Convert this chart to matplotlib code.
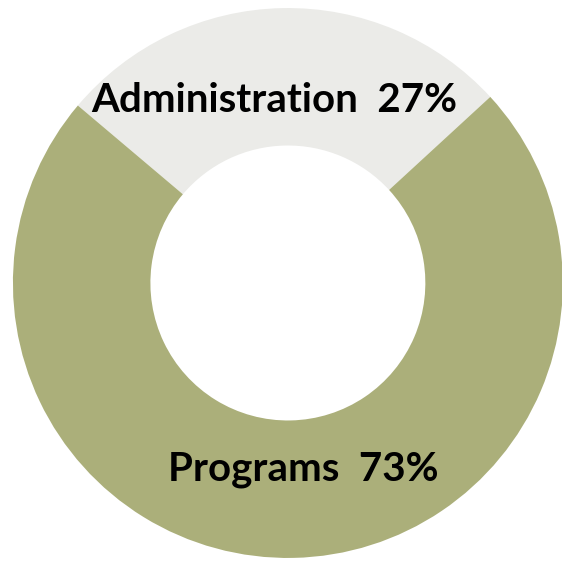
import matplotlib

matplotlib.use("Agg")
import matplotlib.pyplot as plt

# budget split
labels = ["Administration", "Programs"]
shares = [27, 73]
colors = ["#EBEBE8", "#ABAF7A"]

fig = plt.figure(figsize=(5.62, 5.62), dpi=100)
ax = fig.add_axes([0, 0, 1, 1])

ax.pie(
    shares,
    colors=colors,
    startangle=139.8,
    counterclock=False,
    radius=1.0,
    wedgeprops=dict(width=0.5, edgecolor="none"),
)

# labels sit inside the ring
ax.text(-0.05, 0.665, f"{labels[0]}  {shares[0]}%", ha="center", va="center",
        fontsize=29, family="Lato", fontweight="bold", color="black")
ax.text(0.055, -0.68, f"{labels[1]}  {shares[1]}%", ha="center", va="center",
        fontsize=29, family="Lato", fontweight="bold", color="black")

ax.set_xlim(-1.047, 0.997)
ax.set_ylim(-1.0145, 1.029)
ax.set_aspect("equal")
ax.axis("off")

fig.savefig("out.png", dpi=100)
